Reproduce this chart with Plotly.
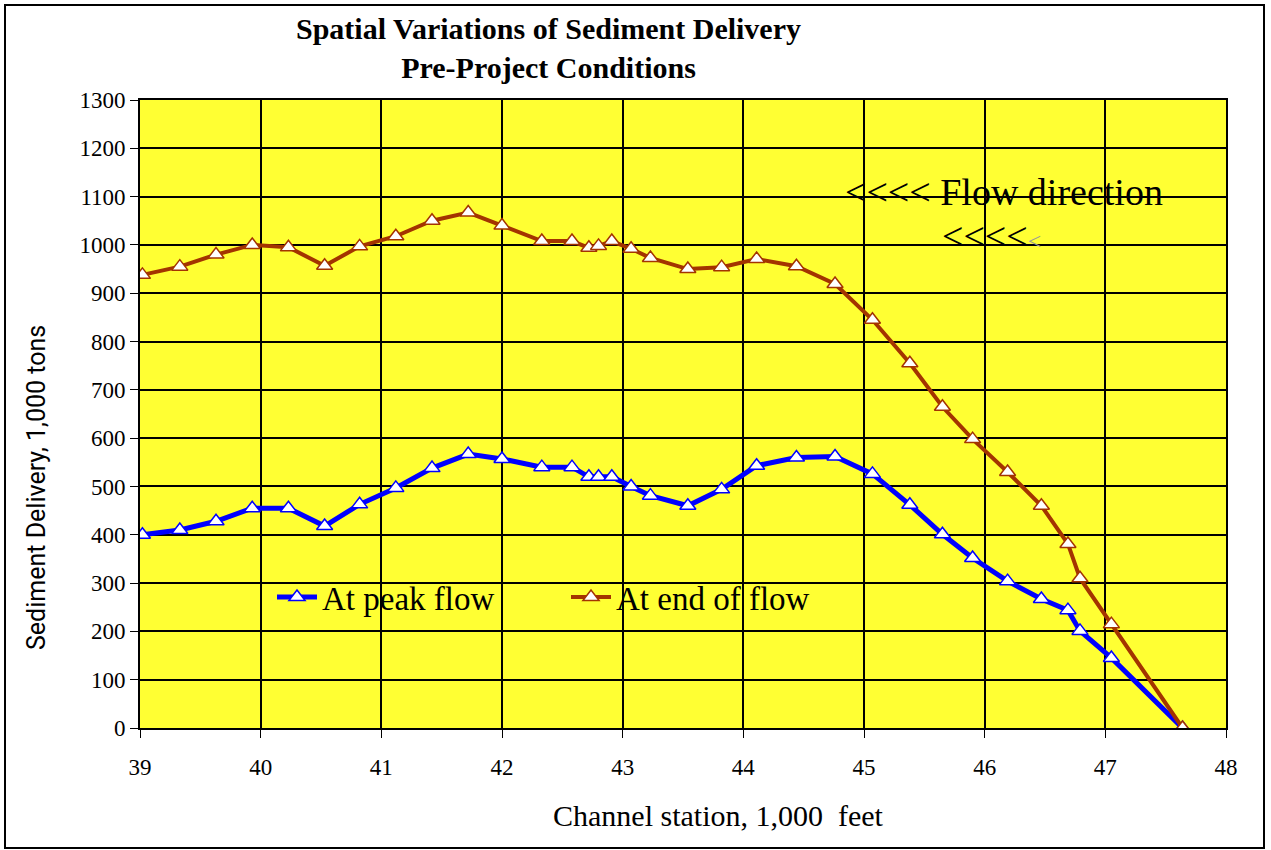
import plotly.graph_objects as go

station = [39.02, 39.33, 39.63, 39.93, 40.23, 40.53, 40.82, 41.12, 41.42, 41.72,
           42.0, 42.33, 42.58, 42.72, 42.8, 42.91, 43.07, 43.23, 43.54, 43.82,
           44.11, 44.44, 44.76, 45.07, 45.38, 45.65, 45.9, 46.19, 46.47, 46.69,
           46.79, 47.05, 47.64]
peak_flow = [400, 410, 428, 455, 455, 418, 463, 497, 538, 567,
             557, 540, 540, 520, 520, 520, 500, 481, 460, 494,
             543, 560, 562, 526, 462, 401, 352, 304, 267, 244,
             201, 145, 0]
end_flow = [938, 955, 980, 1000, 995, 957, 997, 1018, 1050, 1067,
            1040, 1008, 1008, 994, 998, 1008, 992, 973, 950, 954,
            971, 956, 919, 845, 755, 665, 598, 530, 460, 381,
            310, 215, 0]

serif = "Liberation Serif, Times New Roman, serif"

fig = go.Figure()
fig.add_trace(go.Scatter(
    x=station, y=peak_flow, mode="lines+markers", name="At peak flow",
    line=dict(color="#0000FF", width=5),
    marker=dict(symbol="triangle-up", size=14, color="white",
                line=dict(color="#0000FF", width=1.5)),
))
fig.add_trace(go.Scatter(
    x=station, y=end_flow, mode="lines+markers", name="At end of flow",
    line=dict(color="#A33400", width=4),
    marker=dict(symbol="triangle-up", size=14, color="white",
                line=dict(color="#A33400", width=1.5)),
))

W, H = 1271, 850
L, R, T, B = 140, 45, 100, 122
pw, ph = W - L - R, H - T - B

def px(x):
    return (x - L) / pw

def py(y):
    return (H - B - y) / ph

fig.update_layout(
    width=W, height=H,
    margin=dict(l=L, r=R, t=T, b=B),
    paper_bgcolor="white",
    plot_bgcolor="#FFFF33",
    showlegend=True,
    legend=dict(orientation="h", x=px(272), y=py(597), xanchor="left", yanchor="middle",
                bgcolor="rgba(0,0,0,0)", font=dict(family=serif, size=33, color="black"),
                entrywidth=239, itemwidth=40),
    xaxis=dict(range=[39, 48], tickvals=list(range(39, 49)), showgrid=True,
               gridcolor="black", gridwidth=1.7, showline=True, linecolor="black",
               linewidth=1.7, mirror=True, ticks="outside", ticklen=8, tickcolor="black",
               ticklabelstandoff=10,
               tickfont=dict(family=serif, size=23, color="black"), zeroline=False),
    yaxis=dict(range=[0, 1300], dtick=100, showgrid=True, gridcolor="black", gridwidth=1.7,
               showline=True, linecolor="black", linewidth=1.7, mirror=True,
               ticks="outside", ticklen=8, tickcolor="black", zeroline=False,
               tickfont=dict(family=serif, size=23, color="black")),
    annotations=[
        dict(text="<b>Spatial Variations of Sediment Delivery</b><br><b>Pre-Project Conditions</b>",
             x=px(548), y=py(48), xref="paper", yref="paper", showarrow=False,
             xanchor="center", yanchor="middle",
             font=dict(family=serif, size=30, color="black")),
        dict(text="Channel station, 1,000  feet", x=px(718), y=py(815),
             xref="paper", yref="paper", showarrow=False,
             xanchor="center", yanchor="middle",
             font=dict(family=serif, size=30, color="black")),
        dict(text="Sediment Delivery, 1,000 tons", x=px(36), y=py(488),
             xref="paper", yref="paper", showarrow=False, textangle=-90,
             xanchor="center", yanchor="middle",
             font=dict(family="Roboto, Open Sans, sans-serif", size=25, color="black")),
        dict(text="<<<< Flow direction", x=px(843), y=py(192), xref="paper", yref="paper",
             showarrow=False, xanchor="left", yanchor="middle",
             font=dict(family=serif, size=38, color="black")),
        dict(text="<<<<<span style='color:#999999;font-size:24px'><</span>",
             x=px(940), y=py(236), xref="paper", yref="paper",
             showarrow=False, xanchor="left", yanchor="middle",
             font=dict(family=serif, size=38, color="black")),
    ],
    shapes=[
        dict(type="rect", xref="paper", yref="paper",
             x0=px(5), x1=px(1264), y0=py(848), y1=py(5),
             line=dict(color="black", width=2), fillcolor="rgba(0,0,0,0)", layer="below"),
    ],
)

fig.write_html("out.html", config={"displayModeBar": False},
               post_script="document.body.style.margin='0px';document.body.style.overflow='hidden';")
